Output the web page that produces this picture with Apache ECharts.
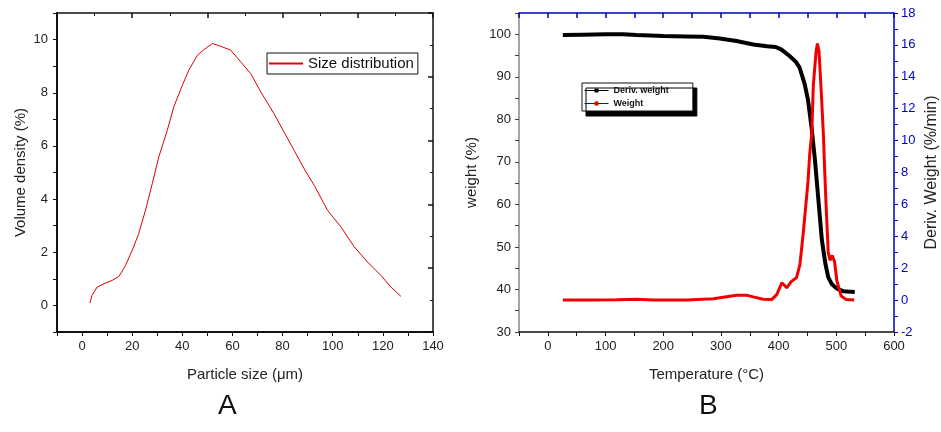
<!DOCTYPE html>
<html>
<head>
<meta charset="utf-8">
<script src="https://cdn.jsdelivr.net/npm/echarts@6/dist/echarts.min.js"></script>
<style>html,body{margin:0;padding:0;background:#fff}#c{width:941px;height:432px}</style>
</head>
<body>
<div id="c"></div>
<script>
// Panel A: particle size distribution
const sizeX = [3.1, 4.0, 6.0, 9.3, 12, 14.7, 17.3, 20, 22.6, 25.3, 28, 30.6, 34, 36.6, 40, 42.6, 46, 48.6, 52, 55.3, 59.3, 63.3, 67.3, 71.3, 76.6, 80.6, 84.6, 88.6, 92.6, 97.9, 103.3, 108.6, 113.9, 119.2, 123.2, 127.2];
const sizeY = [0.09, 0.38, 0.69, 0.84, 0.94, 1.09, 1.5, 2.07, 2.7, 3.58, 4.58, 5.58, 6.59, 7.47, 8.28, 8.85, 9.41, 9.62, 9.85, 9.75, 9.6, 9.16, 8.72, 8.03, 7.21, 6.52, 5.83, 5.14, 4.52, 3.58, 2.95, 2.2, 1.63, 1.13, 0.69, 0.34];

// Panel B: TGA (black, left axis) and derivative (red, right axis)
const tgaT = [26, 60, 100, 130, 154, 200, 240, 270, 298, 327, 356, 380, 395, 405, 419, 430, 436, 445, 451, 457, 463, 469, 475, 481, 486, 492, 501, 512, 520, 532];
const tgaW = [99.8, 99.9, 100, 100, 99.8, 99.6, 99.5, 99.4, 99.0, 98.4, 97.6, 97.2, 97.0, 96.4, 94.9, 93.5, 92.3, 88.4, 84.5, 78.2, 70.4, 61.0, 51.6, 46.1, 42.9, 41.3, 40.2, 39.6, 39.5, 39.4];
const dtgT = [26, 68, 120, 154, 183, 241, 287, 304, 327, 344, 356, 373, 388, 397, 405.6, 414, 422.7, 431, 437, 443, 448.4, 451, 454, 457.4, 460.2, 465, 467.3, 470, 474, 477.6, 480, 482, 486, 489, 493, 497, 501, 508.5, 517, 531];
const dtgD = [0, 0, 0.02, 0.05, 0, 0, 0.08, 0.18, 0.31, 0.31, 0.2, 0.05, 0.03, 0.36, 1.09, 0.77, 1.19, 1.4, 2.24, 4.33, 6.42, 7.47, 9.2, 10.4, 13.5, 15.6, 16.08, 15.6, 13.0, 10.4, 8.0, 6.2, 3.0, 2.5, 2.8, 2.4, 1.2, 0.25, 0.04, 0];

const leftXTicks = [0, 20, 40, 60, 80, 100, 120, 140];
const leftYTicks = [0, 2, 4, 6, 8, 10];
const rightXTicks = [0, 100, 200, 300, 400, 500, 600];
const weightTicks = [30, 40, 50, 60, 70, 80, 90, 100];
const derivTicks = [-2, 0, 2, 4, 6, 8, 10, 12, 14, 16, 18];

const zip = (a, b) => a.map((v, i) => [v, b[i]]);
const FONT = 'Liberation Sans, Arial, sans-serif';
const BLUE = '#0000c8';
const lbl = { fontFamily: FONT, fontSize: 13, color: '#222' };
const nameStyle = { fontFamily: FONT, fontSize: 15, color: '#222' };

const chart = echarts.init(document.getElementById('c'), null, { renderer: 'canvas' });
chart.setOption({
  animation: false,
  backgroundColor: '#fff',
  grid: [
    { left: 57, top: 13, width: 376, height: 319 },
    { left: 519, top: 13, width: 375, height: 319 }
  ],
  xAxis: [
    { gridIndex: 0, type: 'value', min: -10, max: 140, interval: 10, position: 'bottom',
      name: 'Particle size (\u03bcm)', nameLocation: 'middle', nameGap: 35, nameTextStyle: nameStyle,
      axisLine: { show: true, onZero: false, lineStyle: { color: '#111', width: 2 } },
      axisTick: { show: true, inside: false, length: 4, lineStyle: { color: '#111' } },
      axisLabel: Object.assign({ margin: 8, formatter: v => leftXTicks.includes(v) ? String(v) : '' }, lbl),
      splitLine: { show: false } },
    { gridIndex: 0, type: 'value', min: 0, max: 10, interval: 2, position: 'top',
      axisLine: { show: true, onZero: false, lineStyle: { color: '#111', width: 1.5 } },
      axisTick: { show: true, inside: true, length: 5, lineStyle: { color: '#111', width: 1.5 } },
      minorTick: { show: true, splitNumber: 2, length: 3, lineStyle: { color: '#111' } },
      axisLabel: { show: false }, splitLine: { show: false } },
    { gridIndex: 1, type: 'value', min: -50, max: 600, interval: 50, position: 'bottom',
      name: 'Temperature (\u00b0C)', nameLocation: 'middle', nameGap: 35, nameTextStyle: nameStyle,
      axisLine: { show: true, onZero: false, lineStyle: { color: '#111', width: 1.5 } },
      axisTick: { show: true, inside: false, length: 4, lineStyle: { color: '#111' } },
      axisLabel: Object.assign({ margin: 8, formatter: v => rightXTicks.includes(v) ? String(v) : '' }, lbl),
      splitLine: { show: false } },
    { gridIndex: 1, type: 'value', min: -50, max: 600, interval: 50, position: 'top',
      axisLine: { show: true, onZero: false, lineStyle: { color: BLUE, width: 1.5 } },
      axisTick: { show: true, inside: true, length: 5, lineStyle: { color: BLUE, width: 1.5 } },
      axisLabel: { show: false }, splitLine: { show: false } }
  ],
  yAxis: [
    { gridIndex: 0, type: 'value', min: -1, max: 11, interval: 1, position: 'left',
      name: 'Volume density (%)', nameLocation: 'middle', nameGap: 29, nameTextStyle: nameStyle,
      axisLine: { show: true, onZero: false, lineStyle: { color: '#111', width: 2 } },
      axisTick: { show: true, inside: false, length: 4, lineStyle: { color: '#111' } },
      axisLabel: Object.assign({ margin: 9, formatter: v => leftYTicks.includes(v) ? String(v) : '' }, lbl),
      splitLine: { show: false } },
    { gridIndex: 0, type: 'value', min: 0, max: 10, interval: 2, position: 'right',
      axisLine: { show: true, onZero: false, lineStyle: { color: '#111', width: 1.5 } },
      axisTick: { show: true, inside: true, length: 5, lineStyle: { color: '#111', width: 1.5 } },
      minorTick: { show: true, splitNumber: 2, length: 3, lineStyle: { color: '#111' } },
      axisLabel: { show: false }, splitLine: { show: false } },
    { gridIndex: 1, type: 'value', min: 30, max: 105, interval: 5, position: 'left',
      name: 'weight (%)', nameLocation: 'middle', nameGap: 40, nameTextStyle: nameStyle,
      axisLine: { show: true, onZero: false, lineStyle: { color: '#888', width: 1.5 } },
      axisTick: { show: true, inside: false, length: 4, lineStyle: { color: '#444' } },
      axisLabel: Object.assign({ margin: 8, formatter: v => weightTicks.includes(v) ? String(v) : '' }, lbl),
      splitLine: { show: false } },
    { gridIndex: 1, type: 'value', min: -2, max: 18, interval: 1, position: 'right',
      name: 'Deriv. Weight (%/min)', nameLocation: 'middle', nameGap: 30, nameRotate: 90,
      nameTextStyle: { fontFamily: FONT, fontSize: 16, color: '#222' },
      axisLine: { show: true, onZero: false, lineStyle: { color: BLUE, width: 1.5 } },
      axisTick: { show: true, inside: false, length: 4, lineStyle: { color: BLUE } },
      axisLabel: { margin: 7, fontFamily: FONT, fontSize: 13, color: BLUE, formatter: v => derivTicks.includes(v) ? String(v) : '' },
      splitLine: { show: false } }
  ],
  legend: [
    { left: 267, top: 53, orient: 'vertical',
      data: [{ name: 'Size distribution', icon: 'rect', itemStyle: { color: '#e00000' } }],
      itemWidth: 34, itemHeight: 2, itemGap: 2, padding: [3, 4, 3, 2],
      borderColor: '#111', borderWidth: 1, backgroundColor: '#fff',
      textStyle: { fontFamily: FONT, fontSize: 15, color: '#111' } },
    { left: 582, top: 83, orient: 'vertical',
      data: [
        { name: 'Deriv. weight', itemStyle: { color: '#000' }, lineStyle: { color: '#000', width: 1 } },
        { name: 'Weight', itemStyle: { color: '#e00000' }, lineStyle: { color: '#0000ff', width: 1 } }
      ],
      itemWidth: 24, itemHeight: 5, itemGap: 4, padding: [3, 24, 3, 2],
      borderColor: '#111', borderWidth: 1, backgroundColor: '#fff',
      shadowColor: '#000', shadowBlur: 0, shadowOffsetX: 4, shadowOffsetY: 5,
      textStyle: { fontFamily: FONT, fontSize: 9, fontWeight: 'bold', color: '#111' } }
  ],
  graphic: [
    { type: 'text', left: 218, top: 392, style: { text: 'A', font: '28px ' + FONT, fill: '#111' } },
    { type: 'text', left: 699, top: 392, style: { text: 'B', font: '28px ' + FONT, fill: '#111' } }
  ],
  series: [
    { name: 'Size distribution', type: 'line', xAxisIndex: 0, yAxisIndex: 0,
      data: zip(sizeX, sizeY), symbol: 'none', smooth: false,
      lineStyle: { color: '#e00000', width: 1 }, itemStyle: { color: '#e00000' } },
    { name: 'Deriv. weight', type: 'line', xAxisIndex: 2, yAxisIndex: 2,
      data: zip(tgaT, tgaW), symbol: 'rect', showSymbol: false,
      lineStyle: { color: '#000', width: 4 }, itemStyle: { color: '#000' } },
    { name: 'Weight', type: 'line', xAxisIndex: 2, yAxisIndex: 3,
      data: zip(dtgT, dtgD), symbol: 'rect', showSymbol: false,
      lineStyle: { color: '#f00000', width: 3 }, itemStyle: { color: '#e00000' } }
  ]
});
</script>
</body>
</html>
